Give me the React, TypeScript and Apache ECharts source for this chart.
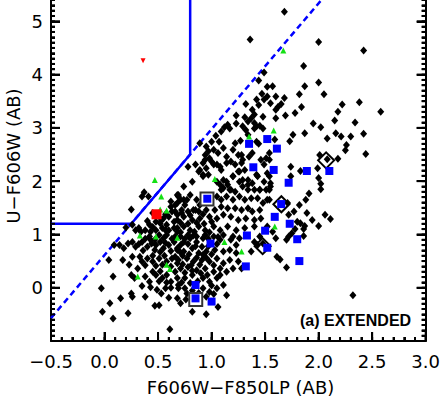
import React, { useEffect, useRef } from "react";
import * as echarts from "echarts";

// ---- data ----
const blackUpper: [number, number][] = [
  [1.68, 5.18], [1.36, 4.66], [2.0, 4.61], [2.42, 4.45], [1.86, 4.16], [1.49, 4.04], [1.44, 3.89], [2.0, 3.85],
  [1.52, 3.77], [1.87, 3.78], [1.47, 3.64], [1.52, 3.59], [1.49, 3.53], [1.68, 3.56], [1.82, 3.63], [2.05, 3.63],
  [1.42, 3.53], [1.44, 3.43], [1.32, 3.45], [1.65, 3.45], [1.62, 3.39], [1.55, 3.46], [1.84, 3.39], [2.22, 3.44],
  [2.38, 3.48], [2.58, 3.3], [1.38, 3.34], [1.4, 3.25], [1.37, 3.18], [1.6, 3.34], [1.6, 3.18], [1.69, 3.23],
  [1.78, 3.28], [2.18, 3.3], [2.15, 3.14], [1.23, 3.23], [1.31, 3.2], [1.34, 3.12], [1.29, 3.03], [1.32, 2.96],
  [1.42, 3.03], [1.45, 3.04], [1.48, 2.99], [1.4, 2.99], [1.23, 3.08], [1.15, 3.06], [1.12, 3.01], [1.17, 2.99],
  [1.09, 2.93], [1.04, 2.85], [1.07, 2.74], [1.27, 2.76], [1.34, 2.87], [1.42, 2.74], [1.44, 2.7], [1.59, 2.78],
  [1.76, 2.87], [1.73, 2.75], [1.87, 2.9], [1.95, 3.08], [2.02, 3.01], [2.08, 2.8], [2.16, 2.9], [2.21, 2.84],
  [2.26, 2.68], [2.3, 2.84], [2.34, 3.1], [2.42, 2.89], [1.11, 2.62], [1.4, 3.09], [1.57, 3.78], [1.6, 3.59],
  [1.48, 3.21],
];
const blackRight: [number, number][] = [
  [2.44, 2.51], [2.25, 2.58], [2.18, 2.42], [2.01, 2.49], [1.99, 2.24], [2.08, 2.41], [2.0, 2.06], [2.02, 1.95],
  [2.02, 1.85], [1.91, 1.77], [1.88, 1.65], [1.89, 1.4], [2.0, 1.16], [2.06, 1.37], [2.11, 1.29], [1.74, 2.09],
  [1.71, 1.59], [1.74, 2.27], [1.83, 2.19], [1.55, 1.96], [1.55, 1.9], [1.54, 1.84], [1.52, 1.65], [1.82, 1.55],
  [1.77, 1.43], [1.72, 1.37], [1.94, 1.27], [1.8, 1.24], [1.83, 1.21], [1.87, 1.16], [1.86, 1.1], [1.78, 1.1],
  [1.75, 1.02], [1.72, 0.96], [1.86, 0.97], [1.57, 1.05], [1.6, 0.93], [1.7, 0.9], [1.61, 0.58], [1.64, 0.53],
  [1.7, 0.38], [2.32, -0.14],
];
const blackMiddle: [number, number][] = [
  [1.0, 2.74], [0.89, 2.71], [0.94, 2.49], [0.98, 2.43], [0.92, 2.34], [1.02, 2.31], [1.08, 2.27], [0.95, 2.24],
  [0.89, 2.21], [0.97, 2.12], [1.22, 2.71], [1.2, 2.59], [1.25, 2.49], [1.18, 2.37], [1.28, 2.34], [1.25, 2.18],
  [1.2, 2.09], [1.29, 2.02], [1.34, 1.93], [1.11, 2.02], [1.15, 1.93], [1.09, 1.84], [1.18, 1.84], [1.43, 2.09],
  [1.45, 1.84], [1.52, 2.15], [1.49, 2.31], [1.46, 2.4], [1.54, 2.4], [0.95, 2.65], [0.97, 2.56], [1.02, 2.59],
  [1.06, 2.53], [1.14, 2.46], [1.28, 2.49], [1.38, 2.53], [0.78, 2.27], [0.85, 2.31], [0.94, 2.4], [1.0, 2.37],
  [1.05, 2.31], [1.14, 2.34], [1.22, 2.31], [1.29, 2.4], [1.35, 2.46], [1.51, 2.43], [1.54, 2.53], [0.88, 2.18],
  [0.92, 2.12], [1.09, 2.21], [1.26, 2.18], [1.31, 2.21], [1.42, 2.12], [1.54, 2.09], [0.82, 1.99], [0.92, 2.09],
  [1.05, 1.99], [1.14, 1.99], [1.2, 2.09], [1.26, 1.99], [1.34, 2.02], [1.38, 1.96], [1.49, 1.99], [0.69, 1.74],
  [0.74, 1.9], [0.8, 1.74], [1.08, 1.93], [1.11, 1.87], [1.17, 1.84], [1.22, 1.8], [1.29, 1.9], [1.34, 1.84],
  [1.4, 1.84], [1.45, 1.84], [1.51, 1.84], [0.68, 1.59], [0.71, 1.65], [0.77, 1.65], [0.86, 1.65], [0.89, 1.55],
  [1.05, 1.71], [1.09, 1.65], [1.14, 1.71], [1.2, 1.65], [1.26, 1.71], [1.31, 1.65], [1.37, 1.68], [1.43, 1.68],
  [1.48, 1.59], [1.54, 1.65], [0.66, 1.43], [0.72, 1.46], [0.78, 1.43], [0.83, 1.46], [0.88, 1.43], [0.95, 1.46],
  [1.03, 1.46], [1.09, 1.52], [1.15, 1.49], [1.22, 1.49], [1.28, 1.46], [1.34, 1.49], [1.38, 1.43], [1.45, 1.46],
  [0.68, 1.27], [0.74, 1.33], [0.82, 1.27], [0.89, 1.3], [0.98, 1.33], [1.05, 1.3], [1.11, 1.37], [1.18, 1.33],
  [1.25, 1.27], [1.32, 1.3], [1.4, 1.27], [1.46, 1.3], [0.68, 1.12], [0.74, 1.15], [0.8, 1.08], [0.88, 1.15],
  [0.94, 1.08], [1.02, 1.15], [1.08, 1.08], [1.15, 1.15], [1.23, 1.08], [1.31, 1.12], [1.4, 1.15], [1.52, 1.15],
  [0.71, 0.96], [0.78, 0.99], [0.86, 0.96], [0.94, 0.99], [1.02, 0.96], [1.11, 0.99], [1.2, 0.96], [1.26, 0.93],
];
const blackLeft: [number, number][] = [
  [0.37, 1.79], [0.41, 1.71], [0.35, 1.71], [0.25, 1.47], [0.2, 1.13], [0.26, 1.18], [0.29, 1.08], [0.34, 1.05],
  [0.38, 1.08], [0.43, 1.05], [0.48, 1.08], [0.54, 1.12], [0.6, 1.08], [0.65, 1.12], [0.68, 1.05], [0.42, 0.96],
  [0.51, 0.99], [0.58, 0.99], [0.66, 0.96], [0.62, 1.62], [0.66, 1.55], [0.68, 1.74], [0.63, 1.43], [0.68, 1.37],
  [0.6, 1.33], [0.65, 1.24], [0.58, 1.18], [0.69, 1.71], [0.74, 1.65], [0.62, 1.52], [0.75, 1.55], [0.85, 1.46],
  [0.55, 1.3], [0.48, 1.24], [0.42, 1.18], [0.52, 1.21],
];
const blackLower: [number, number][] = [
  [0.14, 0.8], [0.18, 0.74], [0.22, 0.83], [0.26, 0.86], [0.29, 0.77], [0.35, 0.86], [0.4, 0.77], [0.43, 0.9],
  [0.48, 0.8], [0.52, 0.86], [0.55, 0.74], [0.6, 0.8], [0.65, 0.86], [0.68, 0.74], [0.04, 0.52], [0.17, 0.52],
  [0.26, 0.58], [0.23, 0.43], [0.31, 0.36], [0.35, 0.49], [0.4, 0.55], [0.45, 0.49], [0.51, 0.55], [0.54, 0.43],
  [0.58, 0.49], [0.63, 0.55], [0.68, 0.46], [0.08, 0.21], [0.25, 0.24], [0.28, 0.18], [0.38, 0.21], [0.42, 0.11],
  [0.48, 0.24], [0.54, 0.18], [0.58, 0.24], [0.62, 0.11], [0.68, 0.18], [0.69, -0.01], [-0.03, -0.01], [0.25, -0.11],
  [0.26, -0.17], [0.38, -0.17], [0.6, -0.19], [0.51, -0.33], [0.47, -0.34], [0.05, -0.29], [0.15, -0.2], [-0.02, -0.45],
  [0.08, -0.58], [0.22, -0.48], [0.61, -0.78], [0.53, -0.11], [0.09, 0.8], [0.35, 0.03], [0.43, 0.01], [0.49, -0.04],
  [0.57, -0.01],
  [0.74, 0.86], [0.8, 0.93], [0.86, 0.86], [0.92, 0.93], [0.91, 0.77], [1.08, 0.9], [1.18, 0.9], [1.23, 0.8],
  [1.4, 0.86], [1.45, 0.96], [0.68, 0.71], [0.74, 0.68], [0.82, 0.74], [0.88, 0.65], [0.95, 0.68], [1.03, 0.71],
  [1.11, 0.68], [1.17, 0.71], [1.23, 0.65], [1.37, 0.68], [1.43, 0.8], [1.48, 0.83], [0.69, 0.52], [0.77, 0.55],
  [0.83, 0.49], [0.91, 0.52], [0.98, 0.49], [1.05, 0.55], [1.11, 0.46], [1.17, 0.52], [1.25, 0.49], [1.28, 0.36],
  [0.71, 0.36], [0.78, 0.39], [0.86, 0.33], [0.94, 0.36], [1.02, 0.3], [1.08, 0.36], [1.14, 0.3], [1.2, 0.36],
  [0.75, 0.18], [0.82, 0.24], [0.92, 0.18], [0.98, 0.11], [1.05, 0.18], [1.11, 0.05], [0.69, 0.05], [0.75, -0.01],
  [0.92, -0.01], [0.98, -0.08], [1.05, -0.01], [0.68, -0.2], [0.71, -0.29], [0.77, -0.11], [0.95, -0.17], [1.14, -0.14],
  [1.06, -0.36], [0.82, -0.45], [0.95, -0.5],
];
const blackCore: [number, number][] = [
  [0.45, 1.4], [0.57, 1.38], [0.72, 1.4], [0.8, 1.36], [0.92, 1.38], [0.4, 1.25], [0.53, 1.27], [0.71, 1.22],
  [0.78, 1.2], [0.86, 1.22], [0.93, 1.2], [1.0, 1.24], [0.32, 1.12], [0.45, 1.14], [0.57, 1.08], [0.71, 1.04],
  [0.84, 1.05], [0.98, 1.04], [0.38, 0.92], [0.47, 0.9], [0.55, 0.93], [0.63, 0.92], [0.75, 0.92], [0.83, 0.98],
  [0.97, 0.92], [1.06, 0.95], [0.32, 0.82], [0.44, 0.83], [0.57, 0.84], [0.71, 0.8], [0.78, 0.82], [0.85, 0.78],
  [0.97, 0.78], [1.05, 0.82], [0.36, 0.7], [0.47, 0.71], [0.52, 0.67], [0.62, 0.69], [0.71, 0.66], [0.79, 0.63],
  [0.92, 0.62], [1.0, 0.63], [0.33, 0.58], [0.45, 0.6], [0.56, 0.6], [0.66, 0.58], [0.73, 0.6], [0.86, 0.56],
  [0.95, 0.56], [0.38, 0.42], [0.48, 0.41], [0.62, 0.4], [0.73, 0.44], [0.81, 0.42], [0.89, 0.43], [1.02, 0.42],
  [0.45, 0.3], [0.52, 0.31], [0.66, 0.3], [0.75, 0.28], [0.82, 0.32], [0.9, 0.27], [0.96, 0.24], [1.08, 0.24],
  [0.51, 0.12], [0.58, 0.1], [0.72, 0.1], [0.8, 0.09], [0.87, 0.12], [1.0, 0.04], [0.62, 0.0], [0.82, -0.05],
  [0.88, -0.1], [0.76, -0.22], [1.02, -0.12],
];
const greenTriangles: [number, number][] = [
  [1.67, 4.45], [1.58, 2.95], [1.35, 2.84], [0.47, 2.02], [1.03, 2.04], [0.53, 1.71], [0.52, 1.47], [0.58, 1.45],
  [0.33, 0.98], [0.48, 0.96], [0.68, 0.94], [1.12, 0.86], [1.59, 1.15], [1.28, 0.68], [0.58, 0.43], [0.61, 0.35],
  [0.31, 0.21],
];
const blueSquares: [number, number][] = [
  [1.35, 2.7], [1.52, 2.79], [1.61, 2.61], [1.39, 2.26], [1.58, 2.21], [1.89, 2.19], [2.1, 2.19], [1.72, 1.97],
  [0.96, 1.67], [1.65, 1.57], [1.59, 1.33], [1.73, 1.2], [1.5, 1.07], [1.33, 0.98], [1.8, 0.91], [0.99, 0.83],
  [1.52, 0.75], [1.32, 0.4], [1.82, 0.5], [0.85, 0.05], [0.85, -0.2], [1.0, -0.26],
];
const openSquares: [number, number][] = [[0.957, 1.667], [0.852, -0.22]];
const openDiamonds: [number, number][] = [[2.07, 2.39], [1.652, 1.566], [1.477, 0.78]];
const redSquares: [number, number][] = [[0.486, 1.378]];
const redTriangles: [number, number][] = [[0.36, 4.26]];
const selectionLine: [number, number][] = [[-0.5, 1.2], [0.25, 1.2], [0.8, 2.5], [0.8, 6.0]];
const cutLine: [number, number][] = [[-0.5, -0.57], [2.28, 6.0]];

// axis ranges, tick steps, titles
const X_MIN = -0.5, X_MAX = 3.0, X_STEP = 0.5, X_MINOR = 5;
const Y_MIN = -1, Y_MAX = 6, Y_STEP = 1, Y_MINOR = 10;
const MAJOR_LEN = 9, MINOR_LEN = 4;
const MINUS = "\u2212";
const X_TITLE = "F606W" + MINUS + "F850LP (AB)";
const Y_TITLE = "U" + MINUS + "F606W (AB)";
const PANEL_LABEL = "(a) EXTENDED";
const FONT = "DejaVu Sans";

function tickValues(min: number, max: number, step: number): number[] {
  const out: number[] = [];
  const n = Math.round((max - min) / step);
  for (let i = 0; i <= n; i++) out.push(+(min + i * step).toFixed(6));
  return out;
}

export default function App() {
  const ref = useRef<HTMLDivElement>(null);
  useEffect(() => {
    if (!ref.current) return;
    const chart = echarts.init(ref.current, undefined, { renderer: "svg" });
    const blacks = [...blackUpper, ...blackRight, ...blackMiddle, ...blackLeft, ...blackLower, ...blackCore];

    const xMajor = tickValues(X_MIN, X_MAX, X_STEP);
    const xMinor = tickValues(X_MIN, X_MAX, X_STEP / X_MINOR);
    const yMajor = tickValues(Y_MIN, Y_MAX, Y_STEP);
    const yMinor = tickValues(Y_MIN, Y_MAX, Y_STEP / Y_MINOR);

    const mkAxisDecor = (split: number) => ({
      axisLine: { show: true, onZero: false, lineStyle: { color: "#000", width: 2 } },
      axisTick: { show: true, inside: true, length: MAJOR_LEN, lineStyle: { color: "#000", width: 2 } },
      minorTick: { show: true, splitNumber: split, length: MINOR_LEN, lineStyle: { color: "#000", width: 2 } },
      splitLine: { show: false },
    });

    const texts: any[] = [
      {
        type: "text",
        left: 300,
        top: 344,
        z: 100,
        style: { text: PANEL_LABEL, font: "bold 16px 'Liberation Sans'", fill: "#000" },
      },
      {
        type: "text",
        x: 240.5,
        y: 419,
        z: 100,
        style: {
          text: X_TITLE, font: "18px '" + FONT + "'", fill: "#000",
          align: "center", verticalAlign: "middle", textAlign: "center", textVerticalAlign: "middle",
        },
      },
      {
        type: "text",
        x: 13,
        y: 188,
        rotation: Math.PI / 2,
        z: 100,
        style: {
          text: Y_TITLE, font: "18px '" + FONT + "'", fill: "#000",
          align: "center", verticalAlign: "middle", textAlign: "center", textVerticalAlign: "middle",
        },
      },
    ];

    try {
      chart.setOption({
        animation: false,
        grid: { left: 51, right: 13, top: 0, bottom: 57 },
        xAxis: {
          type: "value",
          min: X_MIN,
          max: X_MAX,
          interval: X_STEP,
          ...mkAxisDecor(X_MINOR),
          axisLabel: {
            margin: 11,
            color: "#000",
            fontFamily: FONT,
            fontSize: 18,
            formatter: (v: number) => v.toFixed(1).replace("-", MINUS),
          },
        },
        yAxis: [
          {
            type: "value",
            min: Y_MIN,
            max: Y_MAX,
            interval: Y_STEP,
            position: "left",
            ...mkAxisDecor(Y_MINOR),
            axisLabel: {
              margin: 8,
              color: "#000",
              fontFamily: FONT,
              fontSize: 18,
              showMinLabel: false,
              showMaxLabel: false,
            },
          },
          {
            type: "value",
            min: Y_MIN,
            max: Y_MAX,
            interval: Y_STEP,
            position: "right",
            ...mkAxisDecor(Y_MINOR),
            axisLabel: { show: false },
          },
        ],
        graphic: texts,
        series: [
          {
            type: "line",
            data: cutLine,
            symbol: "none",
            lineStyle: { color: "#0000ff", width: 2.5, type: [6, 4] },
            z: 1,
          },
          {
            type: "line",
            data: selectionLine,
            symbol: "none",
            lineStyle: { color: "#0000ff", width: 2.5 },
            z: 1,
          },
          {
            type: "scatter",
            data: blacks,
            symbol: "diamond",
            symbolSize: [7, 8],
            itemStyle: { color: "#000", opacity: 1 },
            z: 2,
          },
          {
            type: "scatter",
            data: openSquares,
            symbol: "rect",
            symbolSize: 13,
            itemStyle: { color: "#fff", borderColor: "#333", borderWidth: 2, opacity: 1 },
            z: 3,
          },
          {
            type: "scatter",
            data: openDiamonds,
            symbol: "diamond",
            symbolSize: 16,
            itemStyle: { color: "rgba(255,255,255,0)", borderColor: "#000", borderWidth: 2, opacity: 1 },
            z: 3,
          },
          {
            type: "scatter",
            data: greenTriangles,
            symbol: "triangle",
            symbolSize: 6,
            itemStyle: { color: "#14e014", opacity: 1 },
            z: 4,
          },
          {
            type: "scatter",
            data: blueSquares,
            symbol: "rect",
            symbolSize: 8,
            itemStyle: { color: "#0000ff", opacity: 1 },
            z: 5,
          },
          {
            type: "scatter",
            data: redSquares,
            symbol: "rect",
            symbolSize: 10,
            itemStyle: { color: "#ff0000", opacity: 1 },
            z: 5,
          },
          {
            type: "scatter",
            data: redTriangles,
            symbol: "triangle",
            symbolRotate: 180,
            symbolSize: 5,
            itemStyle: { color: "#ff0000", opacity: 1 },
            z: 5,
          },
        ],
      });
    } catch (e) {
      console.error(e);
    }

    // fallback tick marks, placed through the chart's own scales
    try {
      const finder = { xAxisIndex: 0, yAxisIndex: 0 };
      const rects: any[] = [];
      const ok = (p: any) => Array.isArray(p) && isFinite(p[0]) && isFinite(p[1]);
      const addX = (v: number, len: number) => {
        const p = chart.convertToPixel(finder, [v, Y_MIN]) as number[];
        if (!ok(p)) return;
        rects.push({ type: "rect", silent: true, z: 60, shape: { x: p[0] - 1, y: p[1] - len, width: 2, height: len }, style: { fill: "#000" } });
      };
      const addY = (v: number, len: number) => {
        const l = chart.convertToPixel(finder, [X_MIN, v]) as number[];
        const r = chart.convertToPixel(finder, [X_MAX, v]) as number[];
        if (!ok(l) || !ok(r)) return;
        rects.push({ type: "rect", silent: true, z: 60, shape: { x: l[0], y: l[1] - 1, width: len, height: 2 }, style: { fill: "#000" } });
        rects.push({ type: "rect", silent: true, z: 60, shape: { x: r[0] - len, y: r[1] - 1, width: len, height: 2 }, style: { fill: "#000" } });
      };
      xMinor.forEach((v) => addX(v, MINOR_LEN));
      xMajor.forEach((v) => addX(v, MAJOR_LEN));
      yMinor.forEach((v) => addY(v, MINOR_LEN));
      yMajor.forEach((v) => addY(v, MAJOR_LEN));
      chart.setOption({ graphic: [...texts, ...rects] });
    } catch (e) {
      console.error(e);
    }

    return () => chart.dispose();
  }, []);
  return <div ref={ref} style={{ position: "absolute", left: 0, top: -32, width: 443, height: 430 }} />;
}
